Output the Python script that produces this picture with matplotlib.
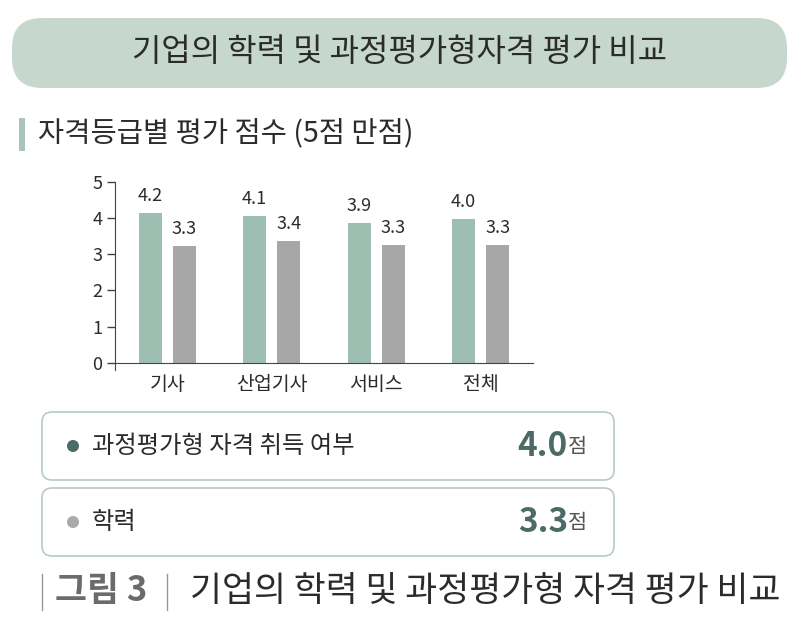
import matplotlib
matplotlib.use("Agg")
import matplotlib.pyplot as plt
from matplotlib.patches import FancyBboxPatch, Circle
import numpy as np

plt.rcParams['font.family'] = ['Noto Sans CJK KR', 'DejaVu Sans']

# 데이터
categories = ['기사', '산업기사', '서비스', '전체']
cert_scores = [4.15, 4.05, 3.86, 3.97]      # 과정평가형 자격 취득 여부
edu_scores = [3.24, 3.37, 3.25, 3.25]       # 학력
cert_labels = ['4.2', '4.1', '3.9', '4.0']
edu_labels = ['3.3', '3.4', '3.3', '3.3']
y_ticks = [0, 1, 2, 3, 4, 5]

legend_names = ['과정평가형 자격 취득 여부', '학력']
legend_values = ['4.0', '3.3']

title = '기업의 학력 및 과정평가형자격 평가 비교'
subtitle = '자격등급별 평가 점수 (5점 만점)'
caption_no = '그림 3'
caption = '기업의 학력 및 과정평가형 자격 평가 비교'

green = '#9dbfb2'
gray = '#a7a7a7'
dark = '#2b2b2b'
teal = '#4d6b66'

fig = plt.figure(figsize=(8, 6.17), dpi=100)

# 배경 레이어 (픽셀 좌표)
bg = fig.add_axes([0, 0, 1, 1])
bg.set_xlim(0, 800)
bg.set_ylim(617, 0)
bg.axis('off')

# 제목 박스
bg.add_patch(FancyBboxPatch((12, 18), 775, 70,
                            boxstyle='round,pad=0,rounding_size=30',
                            fc='#c6d7cd', ec='none'))
bg.text(400, 52, title, ha='center', va='center', fontsize=23, color=dark)

# 소제목
bg.add_patch(plt.Rectangle((19, 118), 6, 33, fc='#a8c5b8', ec='none'))
bg.text(38, 133, subtitle, ha='left', va='center', fontsize=20.5, color=dark)

# 범례 박스
dot_colors = [teal, '#aaaaaa']
box_tops = [412, 488]
for i in range(2):
    top = box_tops[i]
    bg.add_patch(FancyBboxPatch((42, top), 572, 68,
                                boxstyle='round,pad=0,rounding_size=10',
                                fc='white', ec='#b8cbbf', lw=1.2))
    cy = top + 34
    bg.add_patch(Circle((73, cy), 6, fc=dot_colors[i], ec='none'))
    bg.text(92, cy, legend_names[i], ha='left', va='center', fontsize=17.5, color=dark)
    bg.text(568, cy + 1, '점', ha='left', va='center', fontsize=15, color='#555555')
    bg.text(568, cy, legend_values[i], ha='right', va='center', fontsize=24,
            fontweight='bold', color=teal)

# 하단 캡션
bg.plot([42, 42], [574, 610], color='#999999', lw=1)
bg.plot([167, 167], [574, 610], color='#999999', lw=1)
bg.text(55, 591, caption_no, ha='left', va='center', fontsize=25,
        fontweight='bold', color='#6b6b6b')
bg.text(190, 591, caption, ha='left', va='center', fontsize=25, color=dark)

# 막대 차트
ax = fig.add_axes([0.14375, 0.4003, 0.5225, 0.305])
x = np.arange(len(categories))
w = 0.22
off = 0.165
ax.bar(x - off, cert_scores, w, color=green)
ax.bar(x + off, edu_scores, w, color=gray)
for i in range(len(categories)):
    ax.text(x[i] - off, cert_scores[i] + 0.22, cert_labels[i], ha='center',
            va='bottom', fontsize=13, color=dark)
    ax.text(x[i] + off, edu_scores[i] + 0.22, edu_labels[i], ha='center',
            va='bottom', fontsize=13, color=dark)

ax.set_xlim(-0.5, 3.5)
ax.set_ylim(-0.2, 5)
ax.set_yticks(y_ticks)
ax.set_xticks(x)
ax.set_xticklabels(categories)
ax.tick_params(axis='x', length=0, pad=8, labelsize=14, labelcolor=dark)
ax.tick_params(axis='y', length=6, width=1, pad=3, labelsize=13,
               labelcolor=dark, color='#444444')
for s in ['top', 'right']:
    ax.spines[s].set_visible(False)
ax.spines['bottom'].set_position(('data', 0))
ax.spines['bottom'].set_color('#444444')
ax.spines['left'].set_color('#444444')
ax.spines['left'].set_bounds(-0.2, 5)
ax.patch.set_alpha(0)

fig.savefig('out.png', dpi=100)
